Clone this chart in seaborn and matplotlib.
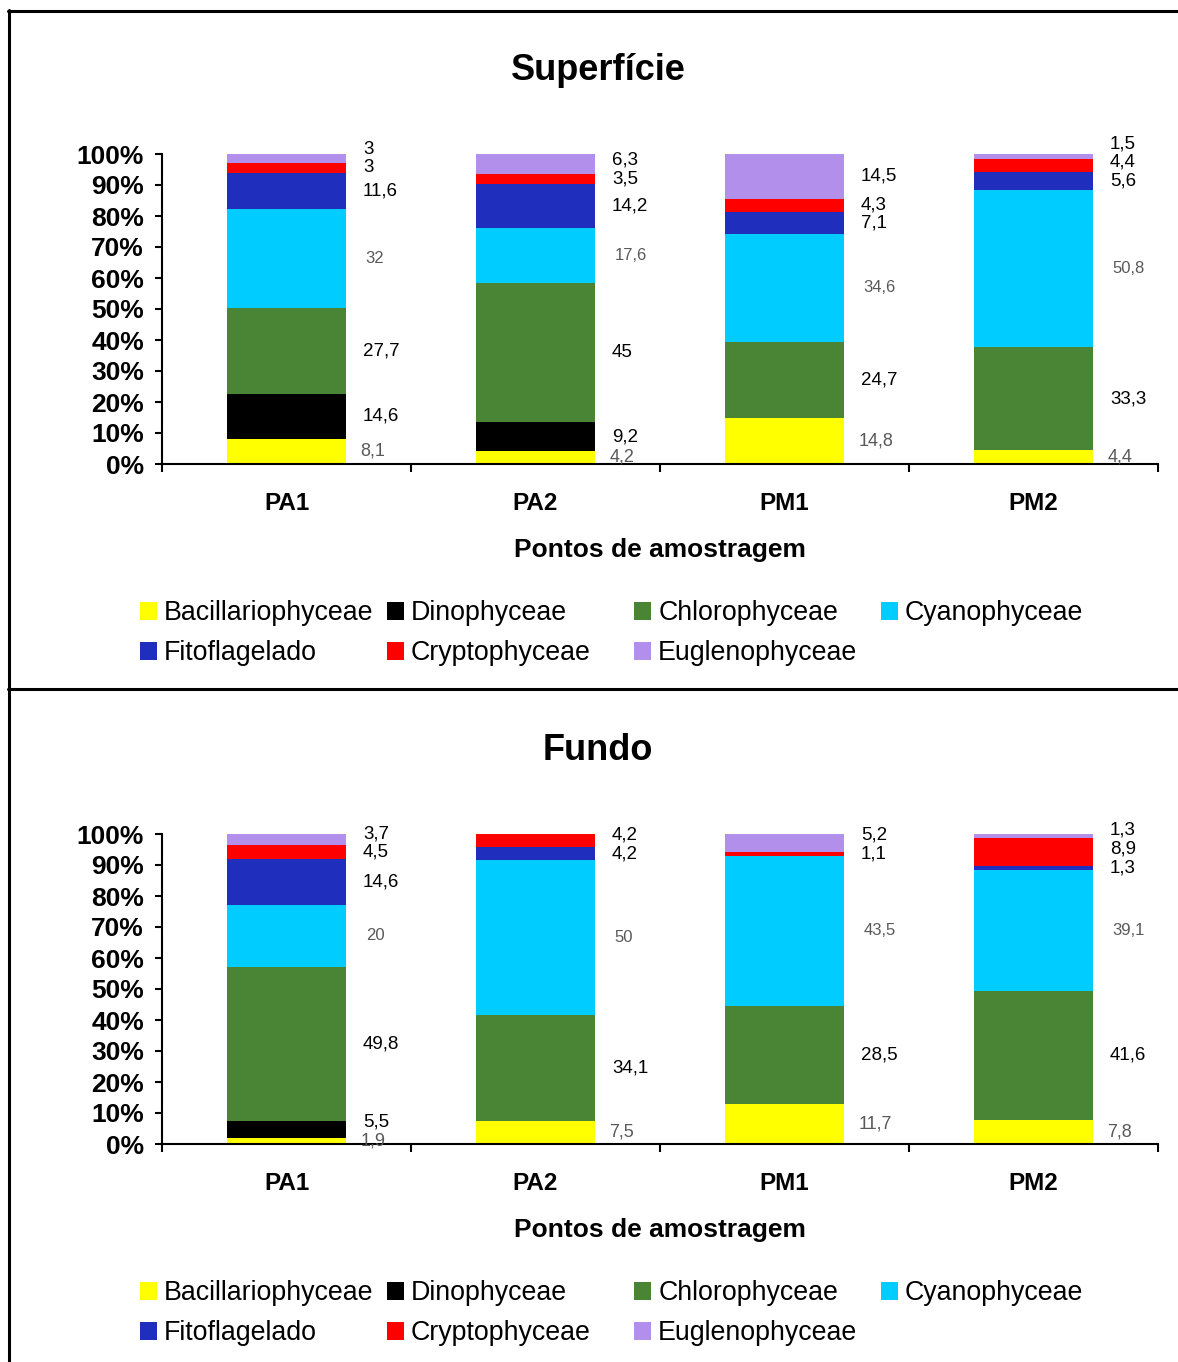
import matplotlib
matplotlib.use("Agg")
import matplotlib.pyplot as plt
from matplotlib.lines import Line2D
from matplotlib.patches import Patch
import seaborn as sns
import pandas as pd
import numpy as np

# Dados (% de cada grupo por ponto de amostragem)
pontos = ["PA1", "PA2", "PM1", "PM2"]
grupos = ["Bacillariophyceae", "Dinophyceae", "Chlorophyceae", "Cyanophyceae",
          "Fitoflagelado", "Cryptophyceae", "Euglenophyceae"]
cores = ["#FFFF00", "#000000", "#4A8536", "#00CCFF", "#1F2EBD", "#FF0000", "#B28FEB"]

sup_bac = [8.1, 4.2, 14.8, 4.4]
sup_dino = [14.6, 9.2, 0, 0]
sup_chloro = [27.7, 45, 24.7, 33.3]
sup_cyano = [32, 17.6, 34.6, 50.8]
sup_fito = [11.6, 14.2, 7.1, 5.6]
sup_crypto = [3, 3.5, 4.3, 4.4]
sup_eugl = [3, 6.3, 14.5, 1.5]

fun_bac = [1.9, 7.5, 11.7, 7.8]
fun_dino = [5.5, 0, 0, 0]
fun_chloro = [49.8, 34.1, 28.5, 41.6]
fun_cyano = [20, 50, 43.5, 39.1]
fun_fito = [14.6, 4.2, 0, 1.3]
fun_crypto = [4.5, 4.2, 1.1, 8.9]
fun_eugl = [3.7, 0, 5.2, 1.3]

superficie = pd.DataFrame(
    [sup_bac, sup_dino, sup_chloro, sup_cyano, sup_fito, sup_crypto, sup_eugl],
    index=grupos, columns=pontos)
fundo = pd.DataFrame(
    [fun_bac, fun_dino, fun_chloro, fun_cyano, fun_fito, fun_crypto, fun_eugl],
    index=grupos, columns=pontos)

sns.set_theme(style="white")
plt.rcParams["font.family"] = ["Liberation Sans", "DejaVu Sans"]
plt.rcParams["text.color"] = "black"
plt.rcParams["axes.labelcolor"] = "black"
plt.rcParams["xtick.color"] = "black"
plt.rcParams["ytick.color"] = "black"

W, H = 1178, 1362
fig = plt.figure(figsize=(W / 100, H / 100), dpi=100)


def draw_panel(df, titulo, off):
    ax = fig.add_axes([162 / W, 1 - (464 + off) / H, 996 / W, 310 / H])
    pct = df / df.sum(axis=0) * 100
    cum = pct.cumsum(axis=0)
    # empilhamento: barras cumulativas desenhadas do topo para a base
    for i in reversed(range(len(grupos))):
        sns.barplot(x=pontos, y=cum.iloc[i].values, order=pontos, color=cores[i],
                    saturation=1, width=0.48, linewidth=0, errorbar=None, ax=ax)

    # rótulos de valores à direita de cada barra
    for j, p in enumerate(pontos):
        last = -100
        for i, g in enumerate(grupos):
            v = df.loc[g, p]
            if v == 0:
                continue
            y = cum.iloc[i][p] - pct.loc[g, p] / 2
            y = max(y, last + 6)
            last = y
            txt = f"{v:g}".replace(".", ",")
            if g == "Cyanophyceae":
                col, fs, dx = "#595959", 12, 14
            elif g == "Bacillariophyceae":
                col, fs, dx = "#595959", 13, 10
            else:
                col, fs, dx = "black", 13.5, 12
            ax.annotate(txt, xy=(j + 0.24, y), xytext=(dx, 0), textcoords="offset points",
                        ha="left", va="center", fontsize=fs, color=col,
                        annotation_clip=False)

    ax.set_ylim(0, 100)
    ax.set_xlim(-0.5, 3.5)
    ax.set_yticks(np.arange(0, 101, 10))
    ax.set_yticklabels([f"{t}%" for t in range(0, 101, 10)], fontsize=19, fontweight="bold")
    ax.set_xticks(range(4))
    ax.set_xticklabels(pontos, fontsize=17.5, fontweight="bold")
    ax.set_xticks(np.arange(-0.5, 4, 1), minor=True)
    ax.tick_params(axis="y", direction="out", length=5, width=1.5, pad=8,
                   left=True)
    ax.tick_params(axis="x", which="major", length=0, pad=20)
    ax.tick_params(axis="x", which="minor", direction="out", length=6, width=1.5,
                   bottom=True)
    for s in ["top", "right"]:
        ax.spines[s].set_visible(False)
    for s in ["left", "bottom"]:
        ax.spines[s].set_color("black")
        ax.spines[s].set_linewidth(1.5)
    ax.set_ylabel("")
    ax.set_xlabel("Pontos de amostragem", fontsize=19, fontweight="bold")
    ax.xaxis.set_label_coords(0.5, -(550 - 464) / 310)
    ax.xaxis.label.set_va("center")

    fig.text(598 / W, 1 - (71 + off) / H, titulo, ha="center", va="center",
             fontsize=26, fontweight="bold")

    handles = [Patch(facecolor=c, edgecolor="none") for c in cores]
    for k, x_sq in enumerate([140, 387, 634, 881]):
        idx = [k, k + 4] if k + 4 < len(grupos) else [k]
        fig.legend([handles[i] for i in idx], [grupos[i] for i in idx],
                   loc="upper left", bbox_to_anchor=(x_sq / W, 1 - (600 + off) / H),
                   frameon=False, borderpad=0, borderaxespad=0, fontsize=19.3,
                   handlelength=0.65, handleheight=0.65, handletextpad=0.25,
                   labelspacing=0.54)


draw_panel(superficie, "Superfície", 0)
draw_panel(fundo, "Fundo", 680)

# molduras
kw = dict(transform=fig.transFigure, color="black", lw=2.2)
fig.add_artist(Line2D([9 / W, 9 / W], [1 - 10 / H, 0], **kw))
fig.add_artist(Line2D([8 / W, 1], [1 - 11 / H, 1 - 11 / H], **kw))
fig.add_artist(Line2D([8 / W, 1], [1 - 689 / H, 1 - 689 / H], **kw))

fig.savefig("out.png", dpi=100)
